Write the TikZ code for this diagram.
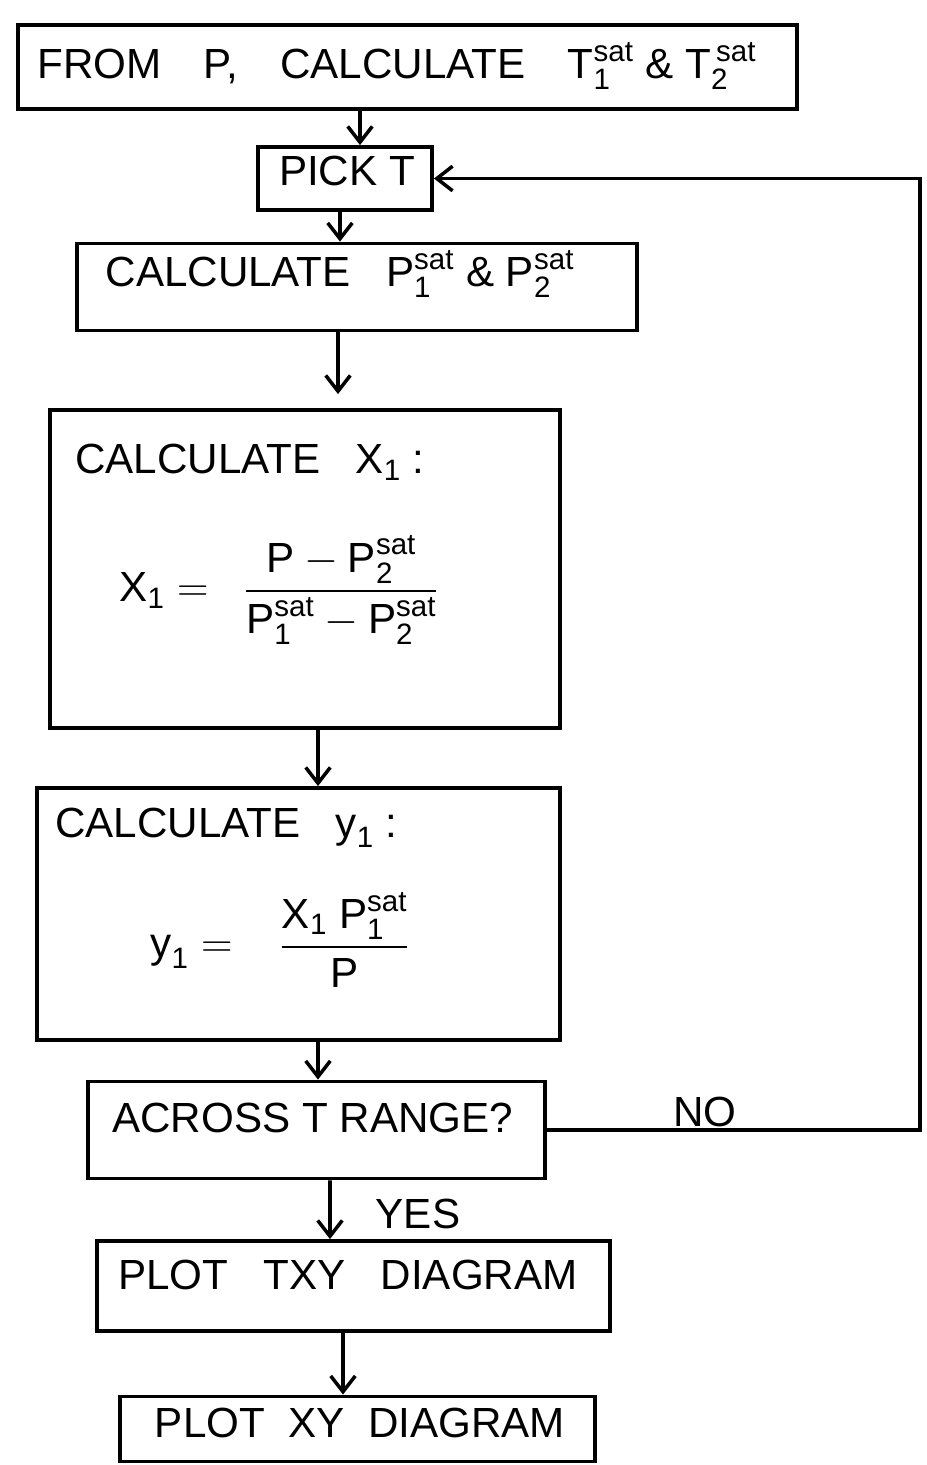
\documentclass[tikz,border=0pt]{standalone}
\usepackage{amsmath}
\usepackage{fontspec}
\setmainfont{Liberation Sans}
\usetikzlibrary{arrows.meta,calc}
\begin{document}
\begin{tikzpicture}[x=0.02cm,y=-0.02cm,
  box/.style n args={2}{draw, line width=2.2pt, minimum width=#1*0.02cm, minimum height=#2*0.02cm, inner sep=0pt},
  txt/.style={font=\fontsize{24}{28}\selectfont, inner sep=0pt},
  arr/.style={line width=2pt, -{Straight Barb[length=9pt,width=14pt,line width=2pt]}},
  line/.style={line width=2.2pt}]
\useasboundingbox (0,0) rectangle (927,1465);
% boxes
\node[box={779}{84}] (b1) at (407.5,67) {};
\node[box={174}{63}] (b2) at (345,178.5) {};
\node[box={560}{87}] (b3) at (357,287) {};
\node[box={510}{318}] (b4) at (305,569) {};
\node[box={523}{252}] (b5) at (298.5,914) {};
\node[box={457}{97}] (b6) at (316.5,1130) {};
\node[box={513}{90}] (b7) at (353.5,1286) {};
\node[box={475}{65}] (b8) at (357.5,1429) {};
% texts
\node[txt] (t1) at (397,66) {FROM\quad P,\quad CALCULATE\quad $\text{T}_{\text{1}}^{\text{sat}}$\ \& $\text{T}_{\text{2}}^{\,\text{sat}}$};
\node[txt] (t2) at (347,171) {PICK T};
\node[txt] (t3) at (340,274) {CALCULATE\ \ \ $\text{P}_{\text{1}}^{\text{sat}}$ \& $\text{P}_{\text{2}}^{\text{sat}}$};
\node[txt, anchor=west] (t4a) at (75,462) {CALCULATE\ \ \ $\text{X}_{\text{1}}$ :};
\node[txt] (t4b) at (279,590) {$\text{X}_{\text{1}} =\ \ \dfrac{\text{P} - \text{P}_{\text{2}}^{\text{sat}}}{\text{P}_{\text{1}}^{\text{sat}} - \text{P}_{\text{2}}^{\text{sat}}}$};
\node[txt, anchor=west] (t5a) at (55,828) {CALCULATE\ \ \ $\text{y}_{\text{1}}$ :};
\node[txt] (t5b) at (280,940) {$\text{y}_{\text{1}} =\ \ \ \dfrac{\text{X}_{\text{1}}\ \text{P}_{\text{1}}^{\text{sat}}}{\text{P}}$};
\node[txt, anchor=west] (t6) at (112,1118) {ACROSS T RANGE?};
\node[txt] (t7) at (348,1275) {PLOT\ \ \ TXY\ \ \ DIAGRAM};
\node[txt] (t8) at (360,1423) {PLOT\ \ XY\ \ DIAGRAM};
\node[txt] (tyes) at (418,1214) {YES};
\node[txt] (tno) at (705,1112) {NO};
% connectors
\draw[arr] ($(b1.south)+(-47.5,0)$) -- ($(b2.north)+(15,0)$);
\draw[arr] ($(b2.south)+(-5,0)$) -- ($(b3.north)+(-17,0)$);
\draw[arr] ($(b3.south)+(-19,0)$) -- ($(b4.north)+(33,-14)$);
\draw[arr] ($(b4.south)+(13,0)$) -- ($(b5.north)+(19.5,0)$);
\draw[arr] ($(b5.south)+(19.5,0)$) -- ($(b6.north)+(1.5,0)$);
\draw[arr] ($(b6.south)+(13.5,0)$) -- ($(b7.north)+(-23.5,0)$);
\draw[arr] ($(b7.south)+(-10.5,0)$) -- ($(b8.north)+(-14.5,0)$);
\coordinate (rt) at (920,600);
\draw[arr] (b6.east) -- (b6.east -| rt) |- (b2.east);
\end{tikzpicture}
\end{document}
